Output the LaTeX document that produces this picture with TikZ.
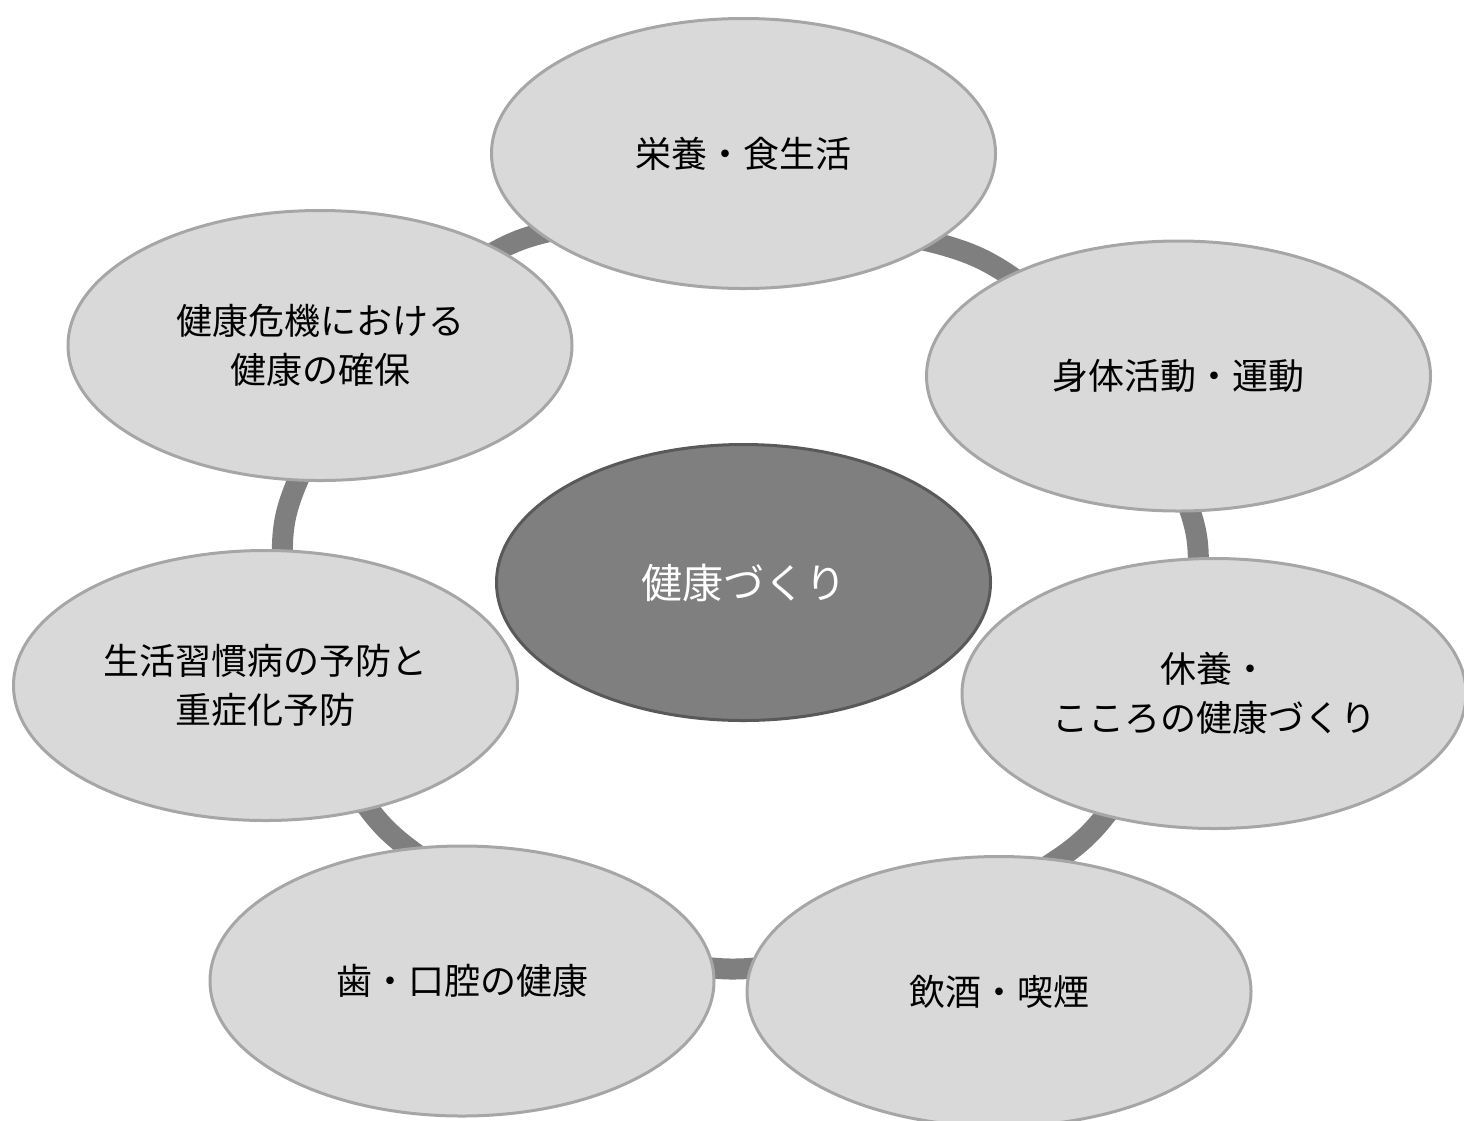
\documentclass[tikz,border=0pt]{standalone}
\usepackage{fontspec}
\newfontfamily\jp{Noto Sans CJK JP}
\usetikzlibrary{shapes.geometric}
\definecolor{ringgray}{HTML}{7F7F7F}
\definecolor{nodefill}{HTML}{D9D9D9}
\definecolor{nodeline}{HTML}{A6A6A6}
\definecolor{hubfill}{HTML}{7F7F7F}
\definecolor{hubline}{HTML}{595959}
\begin{document}
\begin{tikzpicture}[x=1pt,y=-1pt,
  ring/.style={draw=ringgray,line width=21pt},
  outer/.style={ellipse,draw=nodeline,fill=nodefill,line width=3pt,
    minimum width=504pt,minimum height=270pt,inner sep=0pt,align=center,
    font=\jp\fontsize{36}{49}\selectfont,text=black},
  hub/.style={ellipse,draw=hubline,fill=hubfill,line width=3pt,
    minimum width=494pt,minimum height=276pt,inner sep=0pt,
    font=\jp\fontsize{41}{49}\selectfont,text=white}]
\useasboundingbox (0,0) rectangle (1464,1120);
% ring coordinates (between neighbouring nodes)
\coordinate (r12) at (975,256);
\coordinate (r23) at (1196,533);
\coordinate (r34) at (1085,838);
\coordinate (r45) at (730,969);
\coordinate (r56) at (385,828);
\coordinate (r67) at (286,515);
\coordinate (r71) at (520,240);
\draw[ring] plot[smooth cycle] coordinates {(r12) (r23) (r34) (r45) (r56) (r67) (r71)};
% nodes
\node[outer] (n1) at (743.5,153.5) {栄養・食生活};
\node[outer] (n2) at (1178.5,376) {身体活動・運動};
\node[outer] (n3) at (1214,693.5) {休養・\\こころの健康づくり};
\node[outer] (n4) at (999,991.5) {飲酒・喫煙};
\node[outer] (n5) at (462,981) {歯・口腔の健康};
\node[outer] (n6) at (265.5,685.5) {生活習慣病の予防と\\重症化予防};
\node[outer] (n7) at (320,345.5) {健康危機における\\健康の確保};
\node[hub] (hub) at (743.5,582.5) {健康づくり};
\end{tikzpicture}
\end{document}
